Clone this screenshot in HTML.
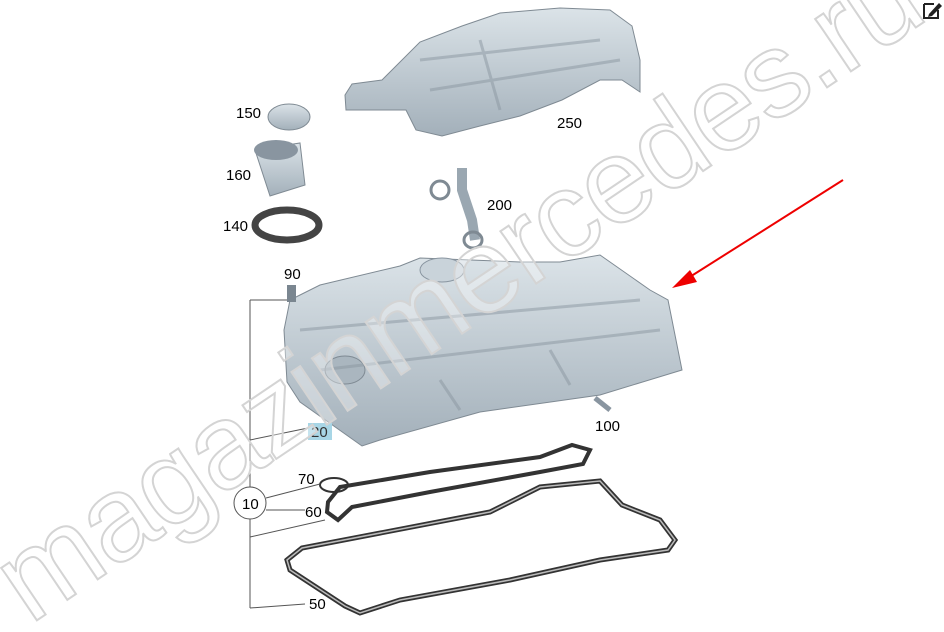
<!DOCTYPE html>
<html><head><meta charset="utf-8"><style>
html,body{margin:0;padding:0;background:#fff;}
svg{display:block;font-family:"Liberation Sans",sans-serif;}
</style></head><body>
<svg width="944" height="632" viewBox="0 0 944 632" xmlns="http://www.w3.org/2000/svg">
<defs>
<linearGradient id="g" x1="0" y1="0" x2="0" y2="1">
<stop offset="0" stop-color="#dbe3e8"/><stop offset="1" stop-color="#a3b0ba"/>
</linearGradient>
</defs>
<!-- top cover 250 -->
<polygon points="345,95 352,84 382,80 420,42 462,26 500,13 560,8 610,10 632,26 640,60 640,92 622,80 600,80 562,100 520,116 480,126 442,136 416,130 406,110 366,110 346,110" fill="url(#g)" stroke="#7f8a93" stroke-width="1"/>
<path d="M420,60 L600,40 M430,90 L620,60 M480,40 L500,110" stroke="#8995a0" stroke-width="3" fill="none" opacity=".5"/>
<text x="557" y="128" font-size="15">250</text>
<!-- 150 cap -->
<ellipse cx="289" cy="117" rx="21" ry="13" fill="url(#g)" stroke="#7f8a93"/>
<text x="236" y="118" font-size="15">150</text>
<!-- 160 -->
<path d="M255,150 L300,143 L305,185 L270,196 Z" fill="url(#g)" stroke="#7f8a93"/>
<ellipse cx="276" cy="150" rx="22" ry="10" fill="#8995a0"/>
<text x="226" y="180" font-size="15">160</text>
<!-- 140 ring -->
<ellipse cx="287" cy="225" rx="32" ry="15" fill="none" stroke="#444" stroke-width="7"/>
<text x="223" y="231" font-size="15">140</text>
<!-- 200 hose -->
<path d="M462,168 L462,190 L472,220 L475,240" stroke="#9aa7b1" stroke-width="10" fill="none"/>
<circle cx="440" cy="190" r="9" fill="none" stroke="#7f8a93" stroke-width="3"/>
<ellipse cx="473" cy="240" rx="9" ry="8" fill="none" stroke="#7f8a93" stroke-width="3"/>
<text x="487" y="210" font-size="15">200</text>
<!-- main cover 20 -->
<polygon points="290,300 320,285 400,266 420,258 520,262 560,262 600,255 650,290 668,300 682,370 600,395 480,412 380,440 362,446 300,402 287,382 284,330" fill="url(#g)" stroke="#7f8a93"/>
<ellipse cx="442" cy="270" rx="22" ry="12" fill="#c9d3da" stroke="#8995a0"/>
<ellipse cx="345" cy="370" rx="20" ry="14" fill="#aab6bf" stroke="#7f8a93"/>
<path d="M300,330 L640,300 M320,370 L660,330 M440,380 L460,410 M550,350 L570,385" stroke="#8995a0" stroke-width="3" fill="none" opacity=".5"/>
<rect x="308" y="423" width="24" height="17" fill="#a8d6e6"/>
<text x="311" y="437" font-size="15" fill="#333">20</text>
<!-- bolt 90 -->
<rect x="287" y="285" width="9" height="17" fill="#7a8690"/>
<text x="284" y="279" font-size="15">90</text>
<!-- bolt 100 -->
<path d="M595,398 L610,410" stroke="#8995a0" stroke-width="5"/>
<text x="595" y="431" font-size="15">100</text>
<!-- 70 ring -->
<ellipse cx="334" cy="485" rx="14" ry="7" fill="none" stroke="#333" stroke-width="2"/>
<text x="298" y="484" font-size="15">70</text>
<!-- 60 gasket -->
<path d="M328,502 L340,487 L430,472 L540,457 L572,445 L590,450 L583,464 L540,472 L430,492 L352,507 L338,520 L327,512 Z" fill="none" stroke="#333" stroke-width="4"/>
<text x="305" y="517" font-size="15">60</text>
<!-- 50 gasket -->
<path d="M287,560 L302,548 L490,512 L540,487 L600,481 L622,505 L660,520 L675,540 L668,550 L600,560 L510,580 L400,600 L360,613 L345,606 L290,570 Z" fill="none" stroke="#333" stroke-width="5"/>
<path d="M287,560 L302,548 L490,512 L540,487 L600,481 L622,505 L660,520 L675,540 L668,550 L600,560 L510,580 L400,600 L360,613 L345,606 L290,570 Z" fill="none" stroke="#bbb" stroke-width="1.5"/>
<text x="309" y="609" font-size="15">50</text>
<!-- leader lines -->
<g stroke="#555" stroke-width="1" fill="none">
<path d="M250,300 L250,608"/>
<path d="M250,300 L287,300"/>
<path d="M250,440 L308,428"/>
<path d="M266,498 L320,484"/>
<path d="M266,510 L305,510"/>
<path d="M250,537 L325,520"/>
<path d="M250,608 L305,604"/>
</g>
<circle cx="250" cy="503" r="16" fill="#fff" stroke="#555"/>
<text x="242" y="509" font-size="15">10</text>
<!-- watermark -->
<text x="30" y="625" font-size="120" fill="#ffffff" fill-opacity="0.35" stroke="#d4d4d4" stroke-width="2" transform="rotate(-34 30 625)" letter-spacing="-2">magazinmercedes.ru</text>
<!-- red arrow -->
<line x1="843" y1="180" x2="685" y2="280" stroke="#e00" stroke-width="2"/>
<polygon points="672,288 690,270 697,282" fill="#e00"/>
<!-- edit icon -->
<path d="M924,4 L934,4 M924,4 L924,18 L938,18 L938,10" stroke="#222" stroke-width="2" fill="none"/>
<path d="M929,14 L939,3 L942,6 L932,16 L928,17 Z" fill="#222"/>
</svg>
</body></html>
